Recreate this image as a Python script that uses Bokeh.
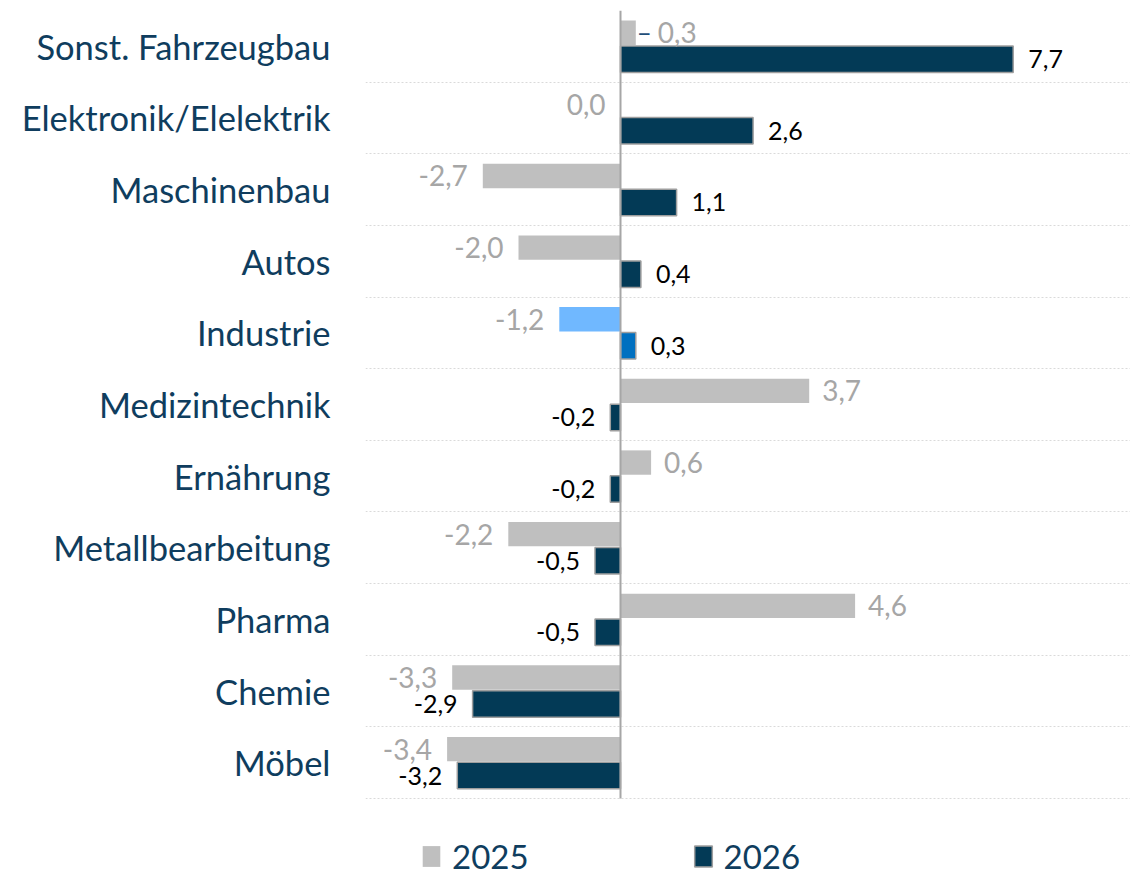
from bokeh.plotting import figure
from bokeh.models import ColumnDataSource, FixedTicker, Legend, LegendItem
from bokeh.core.properties import value
from bokeh.embed import file_html
from bokeh.resources import INLINE

# ---- data ----
categories = ["Sonst. Fahrzeugbau", "Elektronik/Elelektrik", "Maschinenbau", "Autos",
              "Industrie", "Medizintechnik", "Ernährung", "Metallbearbeitung",
              "Pharma", "Chemie", "Möbel"]
v2025 = [0.3, 0.0, -2.7, -2.0, -1.2, 3.7, 0.6, -2.2, 4.6, -3.3, -3.4]
v2026 = [7.7, 2.6, 1.1, 0.4, 0.3, -0.2, -0.2, -0.5, -0.5, -2.9, -3.2]
series_names = ["2025", "2026"]
highlight = "Industrie"

# ---- style ----
FONT = "Lato"
GRAY = "#BFBFBF"
NAVY = "#033A56"
LBLUE = "#70B8FF"
BLUE = "#0070C0"
TXT = "#0F3D5E"
LBLGRAY = "#A6A6A6"
LEADER_IDX = 0          # the 2025 label drawn with a small leader dash

W, H = 1130, 876
TOP, LEFT = 10, 365
BAND = 71.64            # px per category
n = len(categories)
extra = (H - TOP - n * BAND) / BAND   # room below the last category for the legend

centers = [n - 1 - i for i in range(n)]
y25 = [c + 0.19 for c in centers]
y26 = [c - 0.18 for c in centers]

def fmt(v):
    return f"{v:.1f}".replace(".", ",")

col25 = [LBLUE if c == highlight else GRAY for c in categories]
col26 = [BLUE if c == highlight else NAVY for c in categories]

p = figure(width=W, height=H, x_range=(-5, 10), y_range=(-0.5 - extra, n - 0.5),
           output_backend="svg", toolbar_location=None,
           min_border_left=LEFT, min_border_right=0, min_border_top=TOP, min_border_bottom=0)
p.outline_line_color = None
p.background_fill_color = "white"
p.xaxis.visible = False
p.xgrid.visible = False

p.yaxis.ticker = FixedTicker(ticks=centers)
p.yaxis.major_label_overrides = {c: cat for c, cat in zip(centers, categories)}
p.yaxis.major_label_text_font = FONT
p.yaxis.major_label_text_font_size = "34.5px"
p.yaxis.major_label_text_color = TXT
p.yaxis.major_label_standoff = 29
p.yaxis.major_tick_line_color = None
p.yaxis.minor_tick_line_color = None
p.yaxis.axis_line_color = None

p.ygrid.ticker = FixedTicker(ticks=[c + 0.5 for c in range(-1, n)])
p.ygrid.grid_line_color = "#DADADA"
p.ygrid.grid_line_dash = "2 2"
p.ygrid.grid_line_width = 1

t25 = [fmt(v) for v in v2025]
t26 = [fmt(v) for v in v2026]
src25 = ColumnDataSource(dict(y=y25, v=v2025, c=col25, t=t25))
src26 = ColumnDataSource(dict(y=y26, v=v2026, c=col26, t=t26))

r25 = p.hbar(y="y", left=0, right="v", height=0.34, fill_color="c", line_color=None, source=src25)
r26 = p.hbar(y="y", left=0, right="v", height=0.37, fill_color="c", line_color="#9E9E9E",
             line_width=1.5, source=src26)

# zero line across the category area
p.segment(x0=[0], y0=[-0.5], x1=[0], y1=[n - 0.5], line_color="#A6A6A6", line_width=2)

# labels
def sub(y, v, t, cond, offs):
    idx = [i for i in range(len(v)) if cond(v[i])]
    return ColumnDataSource(dict(y=[y[i] for i in idx], v=[v[i] for i in idx],
                                 t=[t[i] for i in idx], o=[offs[i] for i in idx]))

off25 = [22 if i == LEADER_IDX else 13 for i in range(n)]
p.text(x="v", y="y", text="t", source=sub(y25, v2025, t25, lambda v: v > 0, off25),
       text_align="left", text_baseline="middle", x_offset="o",
       text_font=value(FONT), text_font_size="28px", text_color=LBLGRAY)
p.text(x="v", y="y", text="t", source=sub(y25, v2025, t25, lambda v: v <= 0, [-15] * n),
       text_align="right", text_baseline="middle", x_offset="o",
       text_font=value(FONT), text_font_size="28px", text_color=LBLGRAY)
p.text(x="v", y="y", text="t", source=sub(y26, v2026, t26, lambda v: v > 0, [15] * n),
       text_align="left", text_baseline="middle", x_offset="o",
       text_font=value(FONT), text_font_size="25px", text_color="black")
p.text(x="v", y="y", text="t", source=sub(y26, v2026, t26, lambda v: v <= 0, [-15] * n),
       text_align="right", text_baseline="middle", x_offset="o",
       text_font=value(FONT), text_font_size="25px", text_color="black")
# leader dash for the small first label
p.text(x=[v2025[LEADER_IDX]], y=[y25[LEADER_IDX]], text=["–"], text_align="left",
       text_baseline="middle", x_offset=1, y_offset=-1, text_font=value(FONT),
       text_font_size="26px", text_color="#1F4E79")

# legend
legend = Legend(items=[LegendItem(label=series_names[0], renderers=[r25], index=0),
                       LegendItem(label=series_names[1], renderers=[r26], index=0)],
                orientation="horizontal", location=(55, 0),
                glyph_width=22, glyph_height=26, label_standoff=10, spacing=163,
                padding=0, margin=0, border_line_color=None, background_fill_alpha=0,
                label_text_font=FONT, label_text_font_size="33px", label_text_color=TXT)
p.add_layout(legend)

open("out.html", "w").write(file_html(p, INLINE))
